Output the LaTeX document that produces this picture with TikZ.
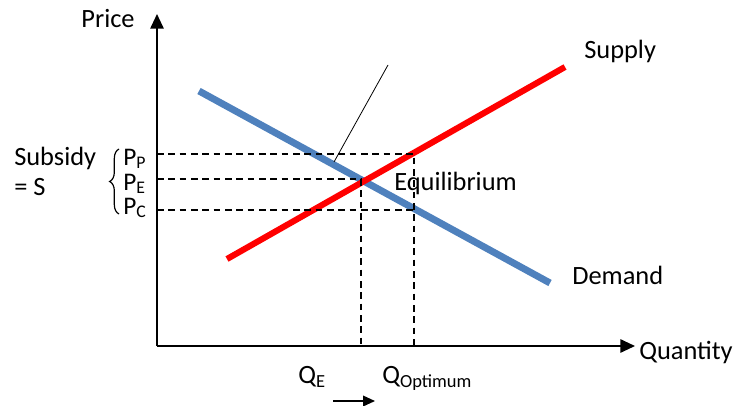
\documentclass[tikz,border=0pt]{standalone}
\usepackage{fontspec}
\setmainfont{Carlito}
\usepackage{tikz}
\usetikzlibrary{arrows.meta,calc,positioning,decorations.pathreplacing}
\definecolor{demandblue}{HTML}{4F81BD}
\definecolor{supplyred}{HTML}{FF0000}
\tikzset{
  axisline/.style={black, -{Triangle[length=11pt,width=10pt]}, line width=1.4pt},
  demandline/.style={demandblue, line width=5.2pt},
  supplyline/.style={supplyred, line width=4.6pt},
  guide/.style={black, dash pattern=on 5pt off 3.5pt, line width=1.4pt},
  pointer/.style={black, line width=0.6pt},
  labelnode/.style={inner sep=0pt, font=\fontsize{19.8}{23}\selectfont},
  pricenode/.style={inner sep=0pt, font=\fontsize{19}{22}\selectfont, anchor=base west}
}

\begin{document}
\begin{tikzpicture}[x=0.75pt, y=-0.75pt]
  \useasboundingbox (0,0) rectangle (734,406);
  % axes
  \coordinate (origin) at (157,346);
  \coordinate (ytop) at (157,14);
  \coordinate (xend) at (635,346);
  \draw[axisline] (origin) -- (ytop);
  \draw[axisline] (origin) -- (xend);
  \node[labelnode, anchor=base] (price) at (108,28) {Price};
  \node[labelnode, anchor=base west] (quantity) at (639,359) {Quantity};
  % demand and supply
  \coordinate (d1) at (199,91);
  \coordinate (d2) at (550,283);
  \coordinate (s1) at (227,259);
  \coordinate (s2) at (565,67);
  \draw[demandline] (d1) -- (d2);
  \draw[supplyline] (s1) -- (s2);
  \node[labelnode, anchor=base west] (supply) at (584,59) {Supply};
  \node[labelnode, anchor=base west] (demand) at (572,284) {Demand};
  \node[labelnode, anchor=base west] (equil) at (394,190) {Equilibrium};
  % guide lines
  \coordinate (eq) at (361,179);
  \coordinate (pp) at (414,154);
  \coordinate (pc) at (414,210);
  \draw[guide] (157,154) -- (pp) -- (pp |- origin);
  \draw[guide] (157,179) -- (eq) -- (eq |- origin);
  \draw[guide] (157,210) -- (pc);
  % pointer
  \coordinate (ptop) at (388,65);
  \coordinate (pbot) at (334,162);
  \draw[pointer] (ptop) -- (pbot);
  % price labels
  \node[pricenode] (lpp) at (123,165) {P\textsubscript{P}};
  \node[pricenode] (lpe) at (123,190) {P\textsubscript{E}};
  \node[pricenode] (lpc) at (123,214) {P\textsubscript{C}};
  \draw[line width=0.9pt, decorate, decoration={brace, amplitude=7pt}] (119,214) -- (119,149);
  \node[labelnode, anchor=base west] (subsidy) at (14,165) {Subsidy};
  \node[labelnode, anchor=base west] (eqs) at (14,195) {= S};
  % quantity labels
  \node[labelnode, anchor=base west] (qe) at (298,383) {Q\textsubscript{E}};
  \node[labelnode, anchor=base west] (qopt) at (382,383) {Q\textsubscript{Optimum}};
  \coordinate (a1) at (333,401);
  \coordinate (a2) at (375,401);
  \draw[black, -{Triangle[length=9pt,width=8pt]}, line width=1.1pt] (a1) -- (a2);
\end{tikzpicture}
\end{document}
